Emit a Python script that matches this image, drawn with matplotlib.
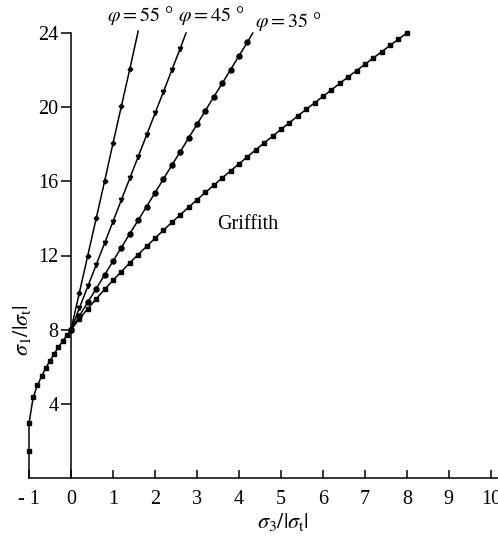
import matplotlib
matplotlib.use("Agg")
from matplotlib import pyplot as plt

plt.rcParams["font.family"] = ["Liberation Serif", "DejaVu Serif"]
plt.rcParams["mathtext.fontset"] = "stix"

# Griffith criterion points (sigma3, sigma1), first point is the curve start on the axis
griffith_s3 = [-1.0, -1.0, -1.0, -0.9, -0.8, -0.7, -0.6, -0.5, -0.4, -0.3, -0.2, -0.1,
               0.0, 0.2, 0.4, 0.6, 0.8, 1.0, 1.2, 1.4, 1.6, 1.8, 2.0, 2.2, 2.4, 2.6,
               2.8, 3.0, 3.2, 3.4, 3.6, 3.8, 4.0, 4.2, 4.4, 4.6, 4.8, 5.0, 5.2, 5.4,
               5.6, 5.8, 6.0, 6.2, 6.4, 6.6, 6.8, 7.0, 7.2, 7.4, 7.6, 7.8, 8.0]
griffith_s1 = [0.0, 1.45, 2.95, 4.36, 4.99, 5.49, 5.93, 6.33, 6.70, 7.05, 7.38, 7.69,
               8.0, 8.58, 9.13, 9.66, 10.17, 10.66, 11.13, 11.60, 12.05, 12.49, 12.93,
               13.36, 13.78, 14.19, 14.60, 15.0, 15.40, 15.79, 16.18, 16.56, 16.94,
               17.32, 17.70, 18.07, 18.43, 18.80, 19.16, 19.52, 19.88, 20.23, 20.58,
               20.93, 21.28, 21.63, 21.97, 22.31, 22.65, 22.99, 23.33, 23.67, 24.0]

# phi = 55
phi55_s3 = [0.0, 0.2, 0.4, 0.6, 0.8, 1.0, 1.2, 1.4, 1.6]
phi55_s1 = [8.0, 10.0, 12.0, 14.0, 16.0, 18.05, 20.05, 22.05, 24.1]

# phi = 45
phi45_s3 = [0.0, 0.2, 0.4, 0.6, 0.8, 1.0, 1.2, 1.4, 1.6, 1.8, 2.0, 2.2, 2.4, 2.6, 2.74]
phi45_s1 = [8.0, 9.17, 10.33, 11.5, 12.66, 13.83, 15.0, 16.16, 17.33, 18.49, 19.66,
            20.82, 21.99, 23.16, 24.0]

# phi = 35
phi35_s3 = [0.0, 0.2, 0.4, 0.6, 0.8, 1.0, 1.2, 1.4, 1.6, 1.8, 2.0, 2.2, 2.4, 2.6,
            2.8, 3.0, 3.2, 3.4, 3.6, 3.8, 4.0, 4.2, 4.33]
phi35_s1 = [8.0, 8.74, 9.48, 10.21, 10.95, 11.69, 12.43, 13.17, 13.90, 14.64, 15.38,
            16.12, 16.86, 17.59, 18.33, 19.07, 19.81, 20.55, 21.28, 22.02, 22.76,
            23.50, 24.0]

x_ticks = [-1, 0, 1, 2, 3, 4, 5, 6, 7, 8, 9, 10]
x_labels = ["- 1", "0", "1", "2", "3", "4", "5", "6", "7", "8", "9", "10"]
y_ticks = [4, 8, 12, 16, 20, 24]

fig = plt.figure(figsize=(4.98, 5.40), dpi=100)
ax = fig.add_axes([29 / 498, 62 / 540, 469 / 498, 445 / 540])

lw = 1.1
ax.plot(griffith_s3, griffith_s1, color="black", lw=lw, marker="s", ms=3.4,
        markevery=slice(1, None), clip_on=False)
ax.plot(phi55_s3[:-1], phi55_s1[:-1], color="black", lw=0, marker="D", ms=2.4)
ax.plot(phi55_s3, phi55_s1, color="black", lw=lw, clip_on=False)
ax.plot(phi45_s3[:-1], phi45_s1[:-1], color="black", lw=0, marker="v", ms=3.2)
ax.plot(phi45_s3, phi45_s1, color="black", lw=lw, clip_on=False)
ax.plot(phi35_s3[:-1], phi35_s1[:-1], color="black", lw=0, marker="o", ms=3.6)
ax.plot(phi35_s3, phi35_s1, color="black", lw=lw, clip_on=False)

ax.text(0.86, 24.95, r"$\varphi = 55$ °", fontsize=14.5, va="center", ha="left")
ax.text(2.56, 24.95, r"$\varphi = 45$ °", fontsize=14.5, va="center", ha="left")
ax.text(4.39, 24.6, r"$\varphi = 35$ °", fontsize=14.5, va="center", ha="left")
ax.text(3.47, 13.65, "Griffith", fontsize=14.5, va="center", ha="left")

ax.set_xlim(-1, 10.17)
ax.set_ylim(0, 24)
ax.spines["top"].set_visible(False)
ax.spines["right"].set_visible(False)
ax.spines["left"].set_position(("data", 0))
ax.spines["left"].set_linewidth(1.1)
ax.spines["bottom"].set_linewidth(1.1)

ax.set_xticks(x_ticks)
ax.set_xticklabels(x_labels)
ax.set_yticks(y_ticks)
ax.tick_params(axis="x", direction="in", length=6, width=1.1, labelsize=14.5, pad=9)
ax.tick_params(axis="y", direction="out", length=7, width=1.1, labelsize=14.5, pad=2)

fig.text(283 / 498, 1 - 522 / 540, r"$\sigma_3/|\sigma_{\rm t}|$", fontsize=16,
         ha="center", va="center")
fig.text(22 / 498, 1 - 330 / 540, r"$\sigma_1/|\sigma_{\rm t}|$", fontsize=16,
         ha="center", va="center", rotation=90)

fig.savefig("out.png", dpi=100)
